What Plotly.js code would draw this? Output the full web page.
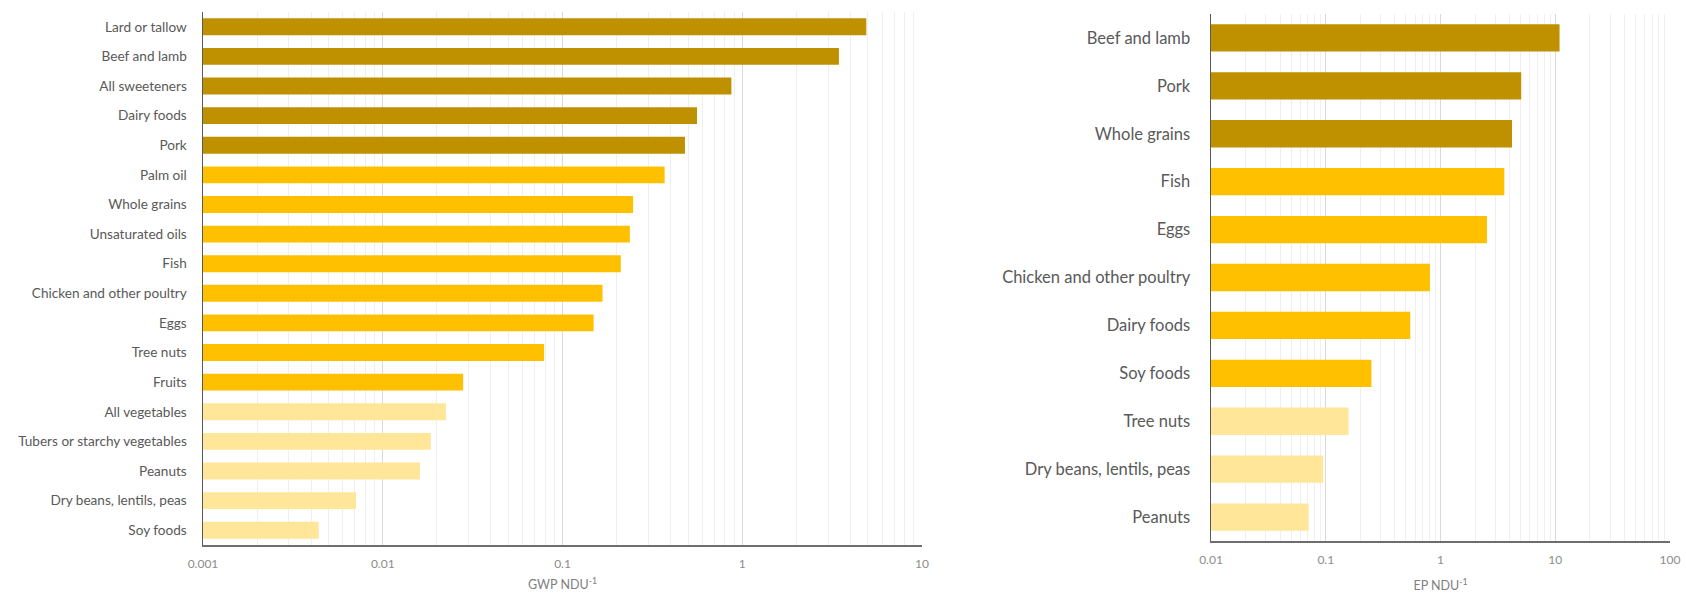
<!DOCTYPE html>
<html>
<head>
<meta charset="utf-8">
<script src="https://cdn.plot.ly/plotly-3.0.1.min.js"></script>
<style>
html,body{margin:0;padding:0;background:#fff;}
#chart{width:1686px;height:596px;}
</style>
</head>
<body>
<div id="chart"></div>
<script>
// GWP per nutrient density unit (left panel)
const gwpFoods = ["Lard or tallow","Beef and lamb","All sweeteners","Dairy foods","Pork","Palm oil","Whole grains","Unsaturated oils","Fish","Chicken and other poultry","Eggs","Tree nuts","Fruits","All vegetables","Tubers or starchy vegetables","Peanuts","Dry beans, lentils, peas","Soy foods"];
const gwpValues = [4.9,3.45,0.87,0.56,0.48,0.37,0.247,0.237,0.211,0.167,0.149,0.079,0.028,0.0225,0.0185,0.0161,0.0071,0.0044];
const gwpTier = [3,3,3,3,3,2,2,2,2,2,2,2,2,1,1,1,1,1];

// EP per nutrient density unit (right panel)
const epFoods = ["Beef and lamb","Pork","Whole grains","Fish","Eggs","Chicken and other poultry","Dairy foods","Soy foods","Tree nuts","Dry beans, lentils, peas","Peanuts"];
const epValues = [10.9,5.05,4.2,3.6,2.54,0.81,0.545,0.25,0.158,0.095,0.071];
const epTier = [3,3,3,2,2,2,2,2,1,1,1];

const tierColors = {1:"#FFE699", 2:"#FFC000", 3:"#BF9000"};

const gwpTickVals = [0.001,0.01,0.1,1,10];
const gwpTickText = ["0.001","0.01","0.1","1","10"];
const epTickVals = [0.01,0.1,1,10,100];
const epTickText = ["0.01","0.1","1","10","100"];

const FONT = "Lato, 'Open Sans', sans-serif";

const traces = [
  {
    type: "bar", orientation: "h",
    x: gwpValues, y: gwpFoods,
    marker: {color: gwpTier.map(t => tierColors[t]), line: {width: 0}},
    xaxis: "x", yaxis: "y", hoverinfo: "x+y"
  },
  {
    type: "bar", orientation: "h",
    x: epValues, y: epFoods,
    marker: {color: epTier.map(t => tierColors[t]), line: {width: 0}},
    xaxis: "x2", yaxis: "y2", hoverinfo: "x+y"
  }
];

function xAxis(domain, range, vals, text, title, anchor, standoff) {
  return {
    type: "log", domain: domain, range: range, anchor: anchor,
    tickvals: vals, ticktext: text,
    showgrid: true, gridcolor: "#d9d9d9", gridwidth: 1,
    minor: {dtick: "D1", showgrid: true, gridcolor: "#efefef", gridwidth: 1, ticks: ""},
    showline: true, linecolor: "#6e6e6e", linewidth: 2,
    ticks: "", zeroline: false,
    tickfont: {family: FONT, size: 12, color: "#8c8c8c"},
    ticklabelstandoff: 7,
    title: {text: title, font: {family: FONT, size: 12.5, color: "#808080"}, standoff: standoff},
    fixedrange: true
  };
}
function yAxis(domain, tickSize, anchor, standoff) {
  return {
    type: "category", domain: domain, anchor: anchor,
    autorange: "reversed",
    showline: true, linecolor: "#595959", linewidth: 1.5,
    showgrid: false, ticks: "", zeroline: false,
    tickfont: {family: FONT, size: tickSize, color: "#595959"},
    ticklabelstandoff: standoff,
    fixedrange: true
  };
}

const layout = {
  width: 1686, height: 596,
  margin: {l: 0, r: 0, t: 0, b: 0},
  paper_bgcolor: "#ffffff", plot_bgcolor: "#ffffff",
  showlegend: false,
  bargap: 0.43,
  font: {family: FONT},
  xaxis: xAxis([203/1686, 922/1686], [-3, 1], gwpTickVals, gwpTickText, "GWP NDU<sup>-1</sup>", "y", 10),
  yaxis: yAxis([1 - 545/596, 1 - 12/596], 13.6, "x", 12),
  xaxis2: xAxis([1211/1686, 1670/1686], [-2, 2], epTickVals, epTickText, "EP NDU<sup>-1</sup>", "y2", 15),
  yaxis2: yAxis([1 - 541/596, 1 - 14/596], 16.5, "x2", 16)
};

Plotly.newPlot("chart", traces, layout, {displayModeBar: false, staticPlot: true});
</script>
</body>
</html>
